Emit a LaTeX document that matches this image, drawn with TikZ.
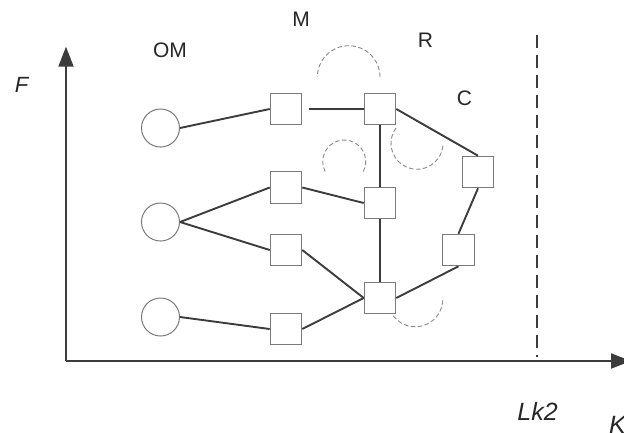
\documentclass[tikz,border=0pt]{standalone}
\usepackage{fontspec}
\setmainfont{Liberation Sans}
\usetikzlibrary{arrows.meta}
\definecolor{lineC}{HTML}{3C3C3C}
\definecolor{boxC}{HTML}{7A7A7A}
\definecolor{dashC}{HTML}{8A8A8A}
\tikzset{
  sqbox/.style={draw=boxC, line width=1.1pt, minimum size=31.5pt, inner sep=0pt, fill=white},
  cirnode/.style={circle, draw=boxC, line width=1pt, minimum size=38pt, inner sep=0pt, fill=white},
  conn/.style={draw=lineC, line width=1.9pt},
  axisline/.style={draw=lineC, line width=1.9pt, -{Triangle[length=20pt,width=15pt]}},
  dasharc/.style={draw=dashC, line width=0.9pt, dash pattern=on 4.5pt off 2.5pt},
  limitline/.style={draw=lineC, line width=1.9pt, dash pattern=on 13pt off 7pt},
  lbl/.style={font=\fontsize{21}{25}\selectfont, inner sep=0pt, text=black!85},
  ilbl/.style={font=\fontsize{22}{26}\selectfont\itshape, inner sep=0pt, text=black!85},
  blbl/.style={font=\fontsize{25}{30}\selectfont\itshape, inner sep=0pt, text=black!85}
}
\begin{document}
\begin{tikzpicture}[x=1pt,y=-1pt]
\useasboundingbox (0,0) rectangle (624,432);
% axes
\coordinate (O) at (66,361);
\coordinate (Ytip) at (66,46.7);
\coordinate (Xtip) at (631,361);
\draw[axisline] (O) -- (Ytip);
\draw[axisline] (O) -- (Xtip);
% dashed limit line
\coordinate (L1) at (537,35);
\coordinate (L2) at (537,357);
\draw[limitline] (L1) -- (L2);
% dashed arcs
\coordinate (a1) at (348.7,77);
\coordinate (a2) at (344.2,161.5);
\coordinate (a3) at (417,143.3);
\coordinate (a4) at (415.2,299.3);
\draw[dasharc] ([shift={(0:31.3pt)}]a1) arc[start angle=0, end angle=180, radius=31.3pt];
\draw[dasharc] ([shift={(-28:21.5pt)}]a2) arc[start angle=-28, end angle=208, radius=21.5pt];
\draw[dasharc] ([shift={(144:26pt)}]a3) arc[start angle=144, end angle=356, radius=26pt];
\draw[dasharc] ([shift={(217:27.5pt)}]a4) arc[start angle=217, end angle=363, radius=27.5pt];
% nodes
\node[cirnode] (o1) at (160.5,128) {};
\node[cirnode] (o2) at (160.5,222) {};
\node[cirnode] (o3) at (160.5,317) {};
\node[sqbox] (m1) at (286,109) {};
\node[sqbox] (m2) at (286,187.5) {};
\node[sqbox] (m3) at (286,250) {};
\node[sqbox] (m4) at (286,329) {};
\node[sqbox] (r1) at (380,109) {};
\node[sqbox] (r2) at (380,203) {};
\node[sqbox] (r3) at (380,298) {};
\node[sqbox] (c1) at (478,172) {};
\node[sqbox] (c2) at (458.5,250) {};
% connectors
\draw[conn] (o1.east) -- (m1.west);
\draw[conn] (o2.east) -- (m2.west);
\draw[conn] (o2.east) -- (m3.west);
\draw[conn] (o3.east) -- (m4.west);
\draw[conn] ([xshift=7pt]m1.east) -- (r1.west);
\draw[conn] (r1.south) -- (r2.north);
\draw[conn] (r2.south) -- (r3.north);
\draw[conn] (m2.east) -- (r2.west);
\draw[conn] (m3.east) -- (r3.west);
\draw[conn] (m4.east) -- (r3.west);
\draw[conn] (r1.east) -- (c1.north);
\draw[conn] (c1.south) -- (c2.north);
\draw[conn] (c2.south) -- (r3.east);
% labels
\node[ilbl] (lF) at (21.5,84.5) {F};
\node[lbl] (lOM) at (170,50.5) {OM};
\node[lbl] (lM) at (301,19) {M};
\node[lbl] (lR) at (425.5,40) {R};
\node[lbl] (lC) at (464.5,98) {C};
\node[blbl] (lLk) at (537.5,411.7) {Lk2};
\node[blbl, anchor=base west] (lK) at (609,433) {K};
\end{tikzpicture}
\end{document}
